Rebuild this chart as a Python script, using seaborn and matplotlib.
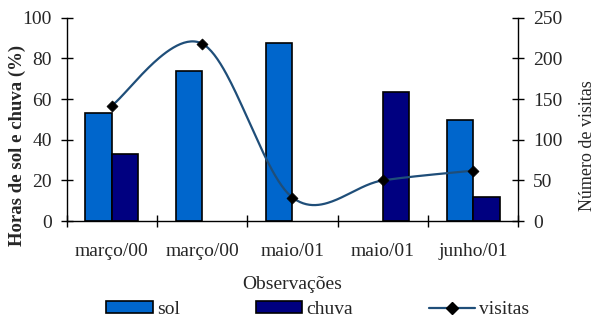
import numpy as np
import pandas as pd
import matplotlib
matplotlib.use("Agg")
import matplotlib.pyplot as plt
import seaborn as sns
from matplotlib.patches import Patch
from matplotlib.lines import Line2D

# --- data -------------------------------------------------------------
categorias = ["março/00", "março/00", "maio/01", "maio/01", "junho/01"]
sol = [53.3, 74.0, 87.5, None, 49.8]          # % horas de sol
chuva = [33.2, None, None, 63.4, 12.0]        # % horas de chuva
visitas = [142, 218, 29, 50, 62]              # número de visitas

# --- style ------------------------------------------------------------
sns.set_theme(style="white")
plt.rcParams["font.family"] = ["Liberation Serif", "DejaVu Serif"]
FS = 14
plt.rcParams["font.size"] = FS

cor_sol = "#0066CC"
cor_chuva = "#000080"
cor_linha = "#1F4E79"

idx = list(range(len(categorias)))
rows = []
for i, v in zip(idx, sol):
    if v is not None:
        rows.append({"obs": i, "serie": "sol", "valor": v})
for i, v in zip(idx, chuva):
    if v is not None:
        rows.append({"obs": i, "serie": "chuva", "valor": v})
df = pd.DataFrame(rows)

fig = plt.figure(figsize=(5.95, 3.2), dpi=100)
ax = fig.add_axes([0.112, 0.309, 0.759, 0.636])

sns.barplot(data=df, x="obs", y="valor", hue="serie", order=idx,
            hue_order=["sol", "chuva"],
            palette={"sol": cor_sol, "chuva": cor_chuva},
            width=0.586, gap=0, edgecolor="black", linewidth=1.2,
            saturation=1, legend=False, ax=ax)

ax.set_xlim(-0.5, len(idx) - 0.5)
ax.set_ylim(0, 100)
ax.set_yticks([0, 20, 40, 60, 80, 100])
ax.set_ylabel("Horas de sol e chuva (%)", fontsize=13.5, fontweight="bold")
ax.yaxis.set_label_coords(-0.09, 0.37)
ax.set_xlabel("Observações", fontsize=FS)
ax.xaxis.set_label_coords(0.5, -0.27)

# category boundaries carry the ticks, labels sit at the centres
ax.set_xticks(np.arange(-0.5, len(idx)), labels=[])
ax.set_xticks(idx, labels=categorias, minor=True)
ax.tick_params(axis="x", which="major", direction="inout", length=9,
               width=1, color="black", bottom=True)
ax.tick_params(axis="x", which="minor", length=0, pad=16, labelsize=FS)
ax.tick_params(axis="y", direction="inout", length=9, width=1,
               color="black", left=True, labelsize=FS, pad=6)

for s in ["top", "right"]:
    ax.spines[s].set_visible(False)
for s in ["left", "bottom"]:
    ax.spines[s].set_color("black")
    ax.spines[s].set_linewidth(1)

# --- visitas on secondary axis, smoothed like a spreadsheet curve -----
ax2 = ax.twinx()
ax2.set_ylim(0, 250)
ax2.set_yticks([0, 50, 100, 150, 200, 250])
ax2.set_ylabel("Número de visitas", fontsize=13)
ax2.yaxis.set_label_coords(1.135, 0.37)
ax2.tick_params(axis="y", direction="inout", length=9, width=1,
                color="black", right=True, labelsize=FS, pad=6)
for s in ["top", "left", "bottom"]:
    ax2.spines[s].set_visible(False)
ax2.spines["right"].set_color("black")
ax2.spines["right"].set_linewidth(1)

# Catmull-Rom through the points, computed in screen units
fig.canvas.draw()
pts = ax2.transData.transform(np.column_stack([idx, visitas]).astype(float))
P = np.vstack([pts[0], pts, pts[-1]])
curve = []
for k in range(1, len(P) - 2):
    p0, p1, p2, p3 = P[k - 1], P[k], P[k + 1], P[k + 2]
    t = np.linspace(0, 1, 60)[:, None]
    seg = 0.5 * ((2 * p1) + (-p0 + p2) * t
                 + (2 * p0 - 5 * p1 + 4 * p2 - p3) * t ** 2
                 + (-p0 + 3 * p1 - 3 * p2 + p3) * t ** 3)
    curve.append(seg)
curve = ax2.transData.inverted().transform(np.vstack(curve))
curve_df = pd.DataFrame({"x": curve[:, 0], "y": curve[:, 1]})
sns.lineplot(data=curve_df, x="x", y="y", sort=False, estimator=None,
             color=cor_linha, linewidth=1.6, ax=ax2)
sns.scatterplot(x=idx, y=visitas, marker="D", s=32, color="black",
                edgecolor="black", zorder=5, ax=ax2)
ax2.set_xlim(-0.5, len(idx) - 0.5)
ax2.set_xlabel("")

# --- legend -----------------------------------------------------------
handles = [
    Patch(facecolor=cor_sol, edgecolor="black", linewidth=1.2, label="sol"),
    Patch(facecolor=cor_chuva, edgecolor="black", linewidth=1.2, label="chuva"),
    Line2D([0], [0], color=cor_linha, lw=1.6, marker="D", markersize=6,
           markerfacecolor="black", markeredgecolor="black", label="visitas"),
]
fig.legend(handles=handles, loc="center", bbox_to_anchor=(0.534, 0.033),
           ncol=3, frameon=False, fontsize=FS, handlelength=2.4,
           handleheight=0.55, handletextpad=0.2, columnspacing=3.9,
           borderpad=0)

fig.savefig("out.png", dpi=100)
